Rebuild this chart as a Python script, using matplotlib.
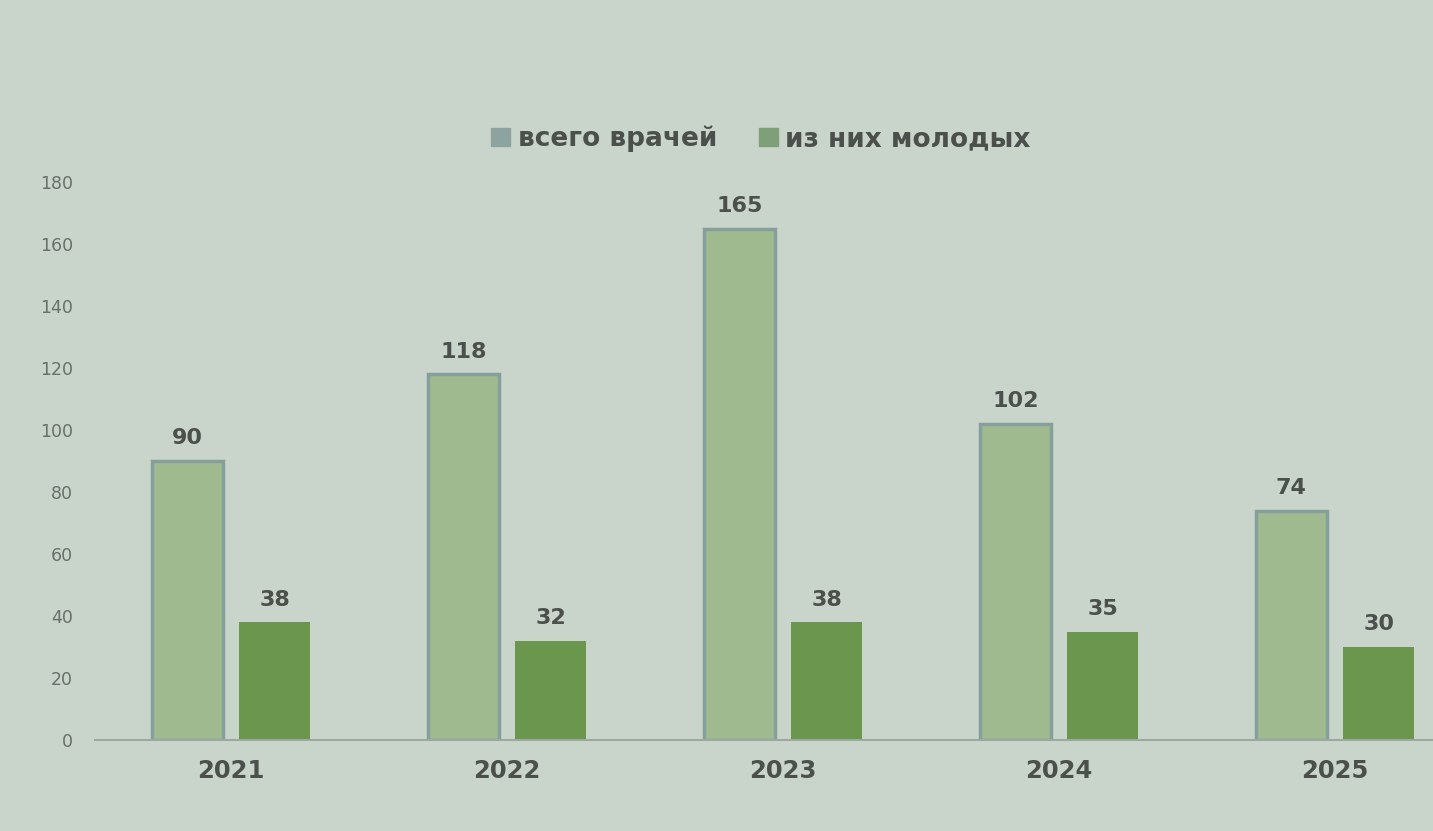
import matplotlib.pyplot as plt
import numpy as np

years = ["2021", "2022", "2023", "2024", "2025"]
total_doctors = [90, 118, 165, 102, 74]
young_doctors = [38, 32, 38, 35, 30]
series_names = ["всего врачей", "из них молодых"]

BG = "#c9d5cb"
LIGHT = "#a0ba8f"
LIGHT_EDGE = "#859f9c"
DARK = "#6a964e"
TEXT = "#4b504c"
TICK = "#696f6a"

plt.rcParams["font.family"] = ["DejaVu Sans"]

fig = plt.figure(figsize=(14.33, 8.31), dpi=100, facecolor=BG)
ax = fig.add_axes([95 / 1433, 91 / 831, 1 - 95 / 1433, (649 - 91) / 831])
ax.set_facecolor(BG)

x = np.arange(len(years))
w = 0.255
off = 0.158
b1 = ax.bar(x - off, total_doctors, w, color=LIGHT, edgecolor=LIGHT_EDGE,
            linewidth=2.5, label=series_names[0], zorder=2)
b2 = ax.bar(x + off, young_doctors, w, color=DARK, edgecolor=DARK,
            linewidth=0, label=series_names[1], zorder=2)

for bars, vals in ((b1, total_doctors), (b2, young_doctors)):
    for bar, v in zip(bars, vals):
        ax.annotate(str(v), (bar.get_x() + bar.get_width() / 2, v),
                    xytext=(0, 9), textcoords="offset points",
                    ha="center", va="bottom", fontsize=16,
                    fontweight="bold", color=TEXT)

ax.set_xlim(-0.493, 4.355)
ax.set_ylim(0, 180)
ax.set_yticks(range(0, 181, 20))
ax.set_xticks(x)
ax.set_xticklabels(years, fontsize=17.5, fontweight="bold", color=TEXT)
ax.tick_params(axis="y", labelsize=12.5, colors=TICK, length=0, pad=16)
ax.tick_params(axis="x", length=0, pad=14)
for s in ("top", "right", "left"):
    ax.spines[s].set_visible(False)
ax.spines["bottom"].set_color("#9da8a1")
ax.spines["bottom"].set_linewidth(1.5)

leg_handles = [plt.Rectangle((0, 0), 1, 1, color="#8ca3a0"),
               plt.Rectangle((0, 0), 1, 1, color="#7f9f78")]
fig.legend(leg_handles, series_names, loc="center", bbox_to_anchor=(761 / 1433, 1 - 139 / 831),
           ncol=2, frameon=False, handlelength=0.7, handleheight=0.7,
           handletextpad=0.3, columnspacing=1.6,
           prop={"size": 19, "weight": "bold"}, labelcolor=TEXT)

fig.savefig("out.png", dpi=100, facecolor=BG)
